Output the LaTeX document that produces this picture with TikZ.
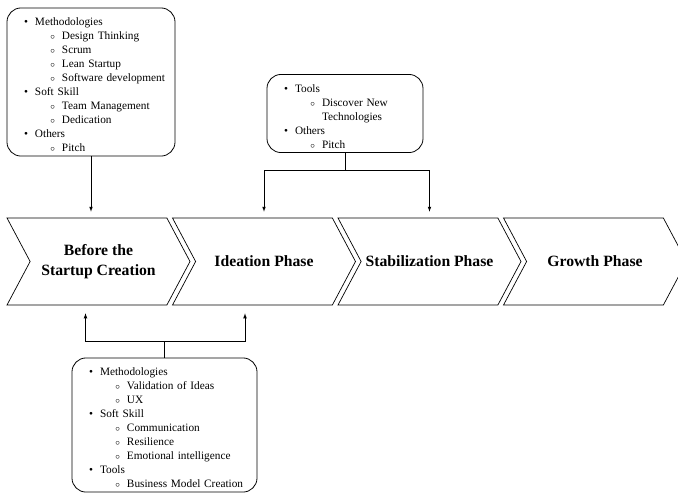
\documentclass[tikz,border=0pt]{standalone}
\usepackage{fontspec}
\setmainfont{Liberation Serif}
\usepackage{enumitem}
\usetikzlibrary{calc, shapes.symbols, arrows}
\tikzstyle{phase} = [signal, draw, line width=0.7pt, signal from=west, signal to=east, signal pointer angle=124, minimum width=183pt, minimum height=87pt, inner sep=0pt, align=center, font=\fontsize{15.7}{20}\selectfont\bfseries]
\tikzstyle{listbox} = [rectangle, draw, line width=0.8pt, rounded corners=14pt, inner sep=4pt, font=\fontsize{11.3}{14}\selectfont]
\setlist[itemize,1]{nosep, leftmargin=24pt, labelsep=7pt, label=\textbullet}
\setlist[itemize,2]{nosep, leftmargin=27pt, labelsep=7pt, label={\small$\circ$}}

\begin{document}
\begin{tikzpicture}[x=1pt, y=-1pt, >=latex, line width=0.7pt]
        \useasboundingbox (0,0) rectangle (678,493);

        \node[phase] at (98.5, 261.5) (Before) {Before the\\Startup Creation};
        \node[phase] at (264, 261.5) (Ideation) {Ideation Phase};
        \node[phase] at (429.5, 261.5) (Stabilization) {Stabilization Phase};
        \node[phase] at (595, 261.5) (Growth) {Growth Phase};

        \node[listbox, text width=160pt, minimum height=148pt] at (91, 82) (BeforeList) {%
            \begin{itemize}
                \item Methodologies
                \begin{itemize}
                    \item Design Thinking
                    \item Scrum
                    \item Lean Startup
                    \item Software development
                \end{itemize}
                \item Soft Skill
                \begin{itemize}
                    \item Team Management
                    \item Dedication
                \end{itemize}
                \item Others
                \begin{itemize}
                    \item Pitch
                \end{itemize}
            \end{itemize}};

        \node[listbox, text width=148pt, minimum height=77pt] at (345, 113.5) (ToolsList) {%
            \begin{itemize}
                \item Tools
                \begin{itemize}
                    \item Discover New Technologies
                \end{itemize}
                \item Others
                \begin{itemize}
                    \item Pitch
                \end{itemize}
            \end{itemize}};

        \node[listbox, text width=177pt, minimum height=134pt] at (164.5, 425) (SkillList) {%
            \begin{itemize}
                \item Methodologies
                \begin{itemize}
                    \item Validation of Ideas
                    \item UX
                \end{itemize}
                \item Soft Skill
                \begin{itemize}
                    \item Communication
                    \item Resilience
                    \item Emotional intelligence
                \end{itemize}
                \item Tools
                \begin{itemize}
                    \item Business Model Creation
                \end{itemize}
            \end{itemize}};

        \coordinate (ToolsJoin) at ($(ToolsList.south) + (0, 17)$);
        \coordinate (SkillJoin) at ($(SkillList.north) + (0, -16)$);

        \draw[->, shorten >=6pt] (BeforeList.south) -- (BeforeList.south |- Before.north);

        \draw[-] (ToolsList.south) -- (ToolsJoin);
        \draw[->, shorten >=6pt] (ToolsJoin) -| (Ideation.north);
        \draw[->, shorten >=6pt] (ToolsJoin) -| (Stabilization.north);

        \draw[-] (SkillList.north) -- (SkillJoin);
        \draw[->, shorten >=8pt] (SkillJoin) -| ([xshift=-13pt]Before.south);
        \draw[->, shorten >=8pt] (SkillJoin) -| ([xshift=-19pt]Ideation.south);
    \end{tikzpicture}
\end{document}
